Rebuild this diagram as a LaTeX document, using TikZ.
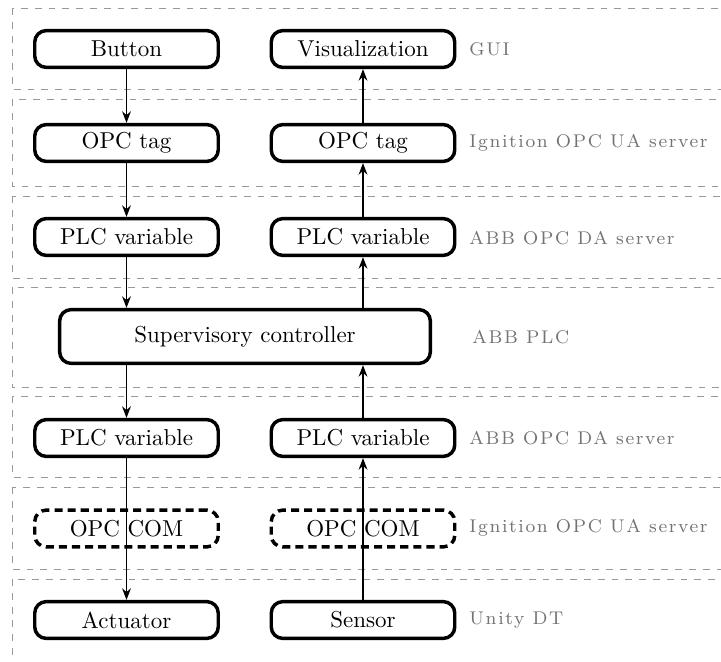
\documentclass[tikz,border=0pt]{standalone}
\usepackage{fontspec}
\usetikzlibrary{arrows.meta}
\newfontfamily\lblfont{lmroman8-regular.otf}[LetterSpace=9]
\begin{document}
\begin{tikzpicture}[x=0.4348pt,y=-0.4348pt,
  box/.style={draw, line width=1.5pt, rounded corners=5pt, minimum width=79.8pt, minimum height=16pt, inner sep=0pt},
  dbox/.style={box, dash pattern=on 3.5pt off 2.2pt},
  layer/.style={draw=black!40, dashed, line width=0.4pt},
  lbl/.style={anchor=west, text=black!55, font=\lblfont\fontsize{8}{9.6}\selectfont, inner sep=0pt},
  flow/.style={-{Stealth[length=5pt,width=3.8pt]}, line width=0.8pt}]
\useasboundingbox (0,0) rectangle (721,661);
\clip (0,0) rectangle (721,661);
% layers
\draw[layer] (12,8) rectangle (760,89);
\draw[layer] (12,99) rectangle (760,186);
\draw[layer] (12,196) rectangle (760,278);
\draw[layer] (12,287) rectangle (760,387);
\draw[layer] (12,396) rectangle (760,477);
\draw[layer] (12,487) rectangle (760,569);
\draw[layer] (12,579) rectangle (760,700);
% nodes
\node[box] (btn) at (126.5,49) {Button};
\node[box] (vis) at (363,49) {Visualization};
\node[box] (tagL) at (126.5,143) {OPC tag};
\node[box] (tagR) at (363,143) {OPC tag};
\node[box] (plcUL) at (126.5,237) {PLC variable};
\node[box] (plcUR) at (363,237) {PLC variable};
\node[box, minimum width=161.2pt, minimum height=23.4pt] (sup) at (245,336.5) {Supervisory controller};
\node[box] (plcLL) at (126.5,438) {PLC variable};
\node[box] (plcLR) at (363,438) {PLC variable};
\node[dbox] (comL) at (126.5,528.5) {OPC COM};
\node[dbox] (comR) at (363,528.5) {OPC COM};
\node[box] (act) at (126.5,620) {Actuator};
\node[box] (sens) at (363,620) {Sensor};
% labels
\node[lbl] (l1) at (469,49) {GUI};
\node[lbl] (l2) at (469,143) {Ignition OPC UA server};
\node[lbl] (l3) at (469,238) {ABB OPC DA server};
\node[lbl] (l4) at (472,337) {ABB PLC};
\node[lbl] (l5) at (469,438) {ABB OPC DA server};
\node[lbl] (l6) at (469,528) {Ignition OPC UA server};
\node[lbl] (l7) at (469,620) {Unity DT};
% connectors
\draw[flow] (btn) -- (tagL);
\draw[flow] (tagL) -- (plcUL);
\draw[flow] (plcUL) -- (plcUL |- sup.north);
\draw[flow] (plcLL |- sup.south) -- (plcLL);
\draw[flow] (plcLL) -- (act);
\draw[flow] (sens) -- (plcLR);
\draw[flow] (plcLR) -- (plcLR |- sup.south);
\draw[flow] (plcUR |- sup.north) -- (plcUR);
\draw[flow] (plcUR) -- (tagR);
\draw[flow] (tagR) -- (vis);
\end{tikzpicture}
\end{document}
